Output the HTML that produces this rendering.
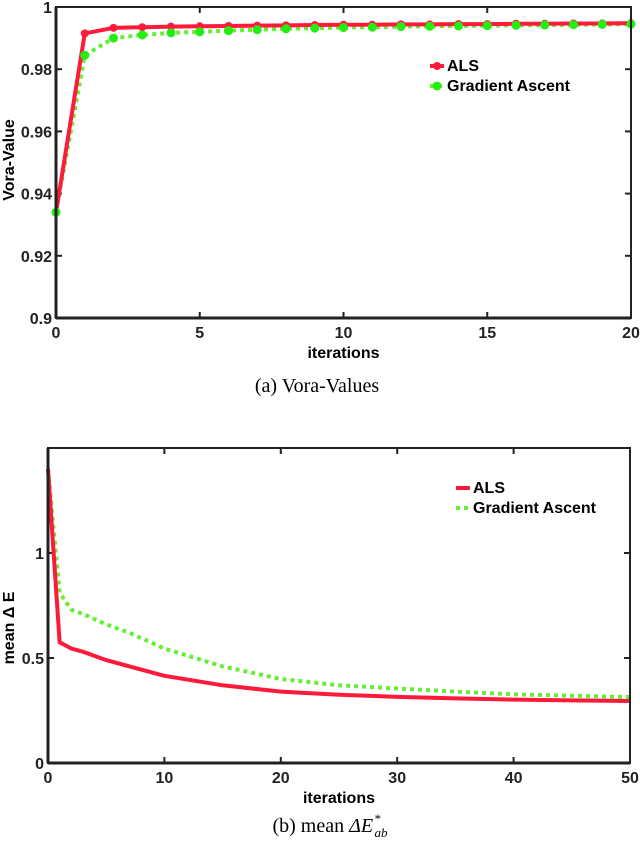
<!DOCTYPE html>
<html><head><meta charset="utf-8"><style>
body{margin:0;background:#fff;}
svg{display:block;font-family:"Liberation Sans",Arial,sans-serif;}
.tk{font-size:16px;font-weight:bold;fill:#222;}
.lab{font-size:16px;font-weight:bold;fill:#000;}
.cap{font-family:"Liberation Serif",serif;font-size:20px;fill:#000;}
</style></head><body>
<svg id="s" width="640" height="845" viewBox="0 0 640 845">
</svg>
<script>
// Top chart data
const topX = [0,1,2,3,4,5,6,7,8,9,10,11,12,13,14,15,16,17,18,19,20];
const topALS = [0.934,0.9915,0.9933,0.9935,0.9937,0.9938,0.9939,0.994,0.9941,0.9942,0.9943,0.9943,0.9944,0.9944,0.9945,0.9945,0.9946,0.9946,0.9947,0.9947,0.9948];
const topGA = [0.934,0.9845,0.990,0.991,0.9917,0.992,0.9924,0.9927,0.993,0.9932,0.9934,0.9935,0.9937,0.9938,0.9939,0.994,0.9941,0.9942,0.9943,0.9944,0.9945];
const topXTicks = [0,5,10,15,20];
const topYTicks = [0.9,0.92,0.94,0.96,0.98,1];
const topYLabels = ["0.9","0.92","0.94","0.96","0.98","1"];
// Bottom chart data
const botX = [0,1,2,3,5,7,10,15,20,25,30,35,40,45,50];
const botALS = [1.40,0.575,0.545,0.53,0.49,0.46,0.415,0.37,0.34,0.325,0.315,0.308,0.302,0.298,0.295];
const botGA = [1.40,0.81,0.73,0.71,0.66,0.62,0.545,0.46,0.40,0.37,0.355,0.34,0.327,0.32,0.314];
const botXTicks = [0,10,20,30,40,50];
const botYTicks = [0,0.5,1];
const botYLabels = ["0","0.5","1"];

const NS="http://www.w3.org/2000/svg";
const svg=document.getElementById('s');
function el(tag,attrs,parent){const e=document.createElementNS(NS,tag);for(const k in attrs)e.setAttribute(k,attrs[k]);(parent||svg).appendChild(e);return e;}
function txt(s,attrs,cls){const t=el('text',attrs);t.setAttribute('class',cls);t.textContent=s;return t;}

function chart(cfg){
  const g=el('g',{});
  
  
  const sx=v=>cfg.L+(v-cfg.x0)/(cfg.x1-cfg.x0)*(cfg.R-cfg.L);
  const sy=v=>cfg.B-(v-cfg.y0)/(cfg.y1-cfg.y0)*(cfg.B-cfg.T);
  cfg.xt.forEach(v=>{
    const x=sx(v);
    const t1=el('line',{x1:x,x2:x,y1:cfg.B,y2:cfg.B-6,stroke:'#222','stroke-width':2},g);
    
    
    el('line',{x1:x,x2:x,y1:cfg.T,y2:cfg.T+6,stroke:'#222','stroke-width':2},g);
    const l=txt(String(v),{x:x,y:cfg.B+20,'text-anchor':'middle'},'tk');
    
    
  });
  cfg.yt.forEach((v,i)=>{
    const y=sy(v);
    el('line',{x1:cfg.L,x2:cfg.L+6,y1:y,y2:y,stroke:'#222','stroke-width':2},g);
    el('line',{x1:cfg.R,x2:cfg.R-6,y1:y,y2:y,stroke:'#222','stroke-width':2},g);
    const l=txt(cfg.yl[i],{x:cfg.L-4,y:y+6,'text-anchor':'end'},'tk');
    
    
  });
  const pts=arr=>cfg.xs.map((x,i)=>sx(x)+','+sy(arr[i])).join(' ');
  const ga=el('polyline',{points:pts(cfg.ga),fill:'none',stroke:'#66ee33','stroke-width':4,'stroke-dasharray':'4,4'},g);
  
  
  const als=el('polyline',{points:pts(cfg.als),fill:'none',stroke:'#ff1a3a','stroke-width':4},g);
  
  
  if(cfg.markers){
    cfg.xs.forEach((x,i)=>{
      const c=el('circle',{cx:sx(x),cy:sy(cfg.als[i]),r:4,fill:'#ff1a3a'},g);
      
      
    });
    cfg.xs.forEach((x,i)=>{
      const c=el('circle',{cx:sx(x),cy:sy(cfg.ga[i]),r:4.5,fill:'#22ee11'},g);
      
      
    });
  }
  const f=el('rect',{x:cfg.L,y:cfg.T,width:cfg.R-cfg.L,height:cfg.B-cfg.T,fill:'none',stroke:'#222','stroke-width':2},g);
  
  
  el('line',{x1:cfg.L,x2:cfg.R,y1:cfg.B,y2:cfg.B,stroke:'#222','stroke-width':3},g);
  el('line',{x1:cfg.L,x2:cfg.L,y1:cfg.T,y2:cfg.B,stroke:'#222','stroke-width':3},g);
  const lx=cfg.legX, ly=cfg.legY;
  el('line',{x1:lx,x2:lx+14,y1:ly-5,y2:ly-5,stroke:'#ff1a3a','stroke-width':4},g);
  if(cfg.markers) el('circle',{cx:lx+7,cy:ly-5,r:4,fill:'#ff1a3a'},g);
  const a=txt('ALS',{x:lx+17,y:ly},'lab');
  
  
  el('line',{x1:lx,x2:lx+14,y1:ly+15,y2:ly+15,stroke:'#66ee33','stroke-width':4,'stroke-dasharray':'4,4'},g);
  if(cfg.markers) el('circle',{cx:lx+7,cy:ly+15,r:4.5,fill:'#22ee11'},g);
  const b=txt('Gradient Ascent',{x:lx+17,y:ly+20},'lab');
  
  
  const xtit=txt('iterations',{x:(cfg.L+cfg.R)/2,y:cfg.B+40,'text-anchor':'middle'},'lab');
  
  
  const ytit=txt(cfg.ytitle,{x:0,y:0,'text-anchor':'middle',transform:`translate(${cfg.yTitleX},${cfg.yTitleY}) rotate(-90)`},'lab');
  
  
}

chart({name:'vora-value-chart',L:56,R:631,T:7,B:318,x0:0,x1:20,y0:0.9,y1:1,
  xs:topX,als:topALS,ga:topGA,xt:topXTicks,yt:topYTicks,yl:topYLabels,markers:true,
  legX:430,legY:71,ytitle:'Vora-Value',yTitleX:14,yTitleY:160});
chart({name:'mean-delta-e-chart',L:48,R:630,T:448,B:763,x0:0,x1:50,y0:0,y1:1.5,
  xs:botX,als:botALS,ga:botGA,xt:botXTicks,yt:botYTicks,yl:botYLabels,markers:false,
  legX:456,legY:493,ytitle:'mean Δ E',yTitleX:14,yTitleY:628});

const c1=txt('(a) Vora-Values',{x:317,y:392,'text-anchor':'middle'},'cap');


const c2=el('text',{x:330,y:832,'text-anchor':'middle'});
c2.setAttribute('class','cap');


c2.innerHTML='(b) mean <tspan font-style="italic">ΔE</tspan><tspan font-style="italic" font-size="13" dy="-9" dx="1">*</tspan><tspan font-style="italic" font-size="13" dy="14" dx="-6">ab</tspan>';
</script>
</body></html>
